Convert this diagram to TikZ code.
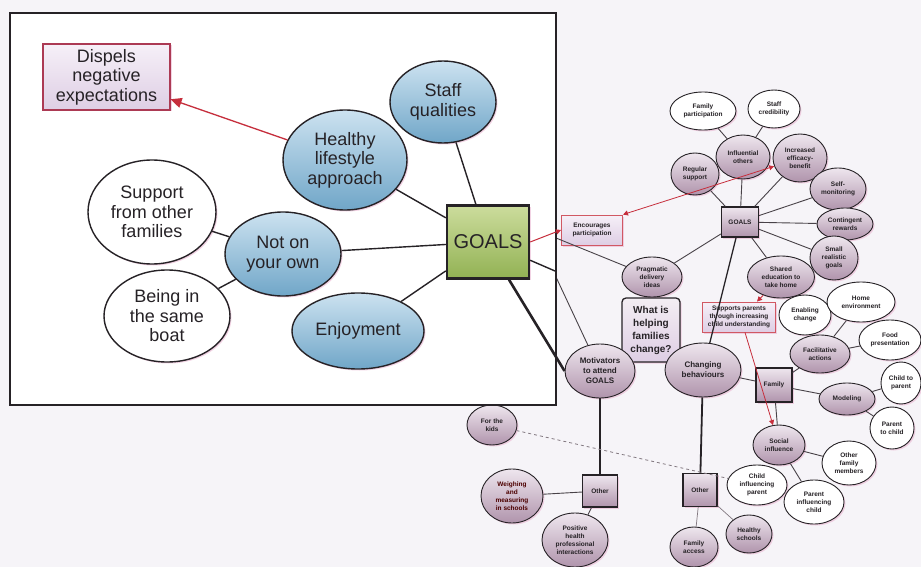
\documentclass[tikz,border=0pt]{standalone}
\usepackage{fontspec}
\setmainfont{Liberation Sans}
\usetikzlibrary{shapes.geometric,shadows,arrows.meta}

\definecolor{pagebg}{RGB}{246,244,248}
\definecolor{ink}{RGB}{38,34,38}
\definecolor{wire}{RGB}{72,66,72}
\definecolor{softwire}{RGB}{130,120,128}
\definecolor{mauveT}{RGB}{238,230,238}
\definecolor{mauveB}{RGB}{176,148,172}
\definecolor{blueT}{RGB}{204,226,240}
\definecolor{blueB}{RGB}{112,166,200}
\definecolor{greenT}{RGB}{204,220,156}
\definecolor{greenB}{RGB}{146,178,84}
\definecolor{noteT}{RGB}{246,240,248}
\definecolor{noteB}{RGB}{222,206,228}
\definecolor{linkred}{RGB}{198,46,60}
\definecolor{boxred}{RGB}{172,58,84}
\definecolor{glow}{RGB}{232,176,206}

\begin{document}
\begin{tikzpicture}[x=1pt,y=-1pt,
  glowshadow/.style={drop shadow={shadow xshift=1.5pt,shadow yshift=-1.5pt,fill=glow,opacity=0.55}},
  % enlarged panel
  bigtxt/.style={font=\fontsize{18}{19.5}\selectfont,align=center,text=ink},
  bigoval/.style 2 args={ellipse,draw=ink,line width=1.4pt,minimum width=#1,minimum height=#2,inner sep=0pt,bigtxt,glowshadow},
  blueoval/.style 2 args={bigoval={#1}{#2},top color=blueT,bottom color=blueB},
  whiteoval/.style 2 args={bigoval={#1}{#2},fill=white},
  goalbox/.style={rectangle,draw=ink,line width=2.4pt,minimum width=82,minimum height=73,top color=greenT,bottom color=greenB,font=\fontsize{20}{22}\selectfont,text=ink,glowshadow},
  redbox/.style={rectangle,draw=boxred,line width=1.2pt,minimum width=127,minimum height=66,inner sep=0pt,top color=noteT,bottom color=noteB,bigtxt,glowshadow},
  inklnk/.style={draw=ink,line width=1.4pt},
  % overview map
  smtxt/.style={font=\fontsize{6.5}{8.2}\selectfont\bfseries,align=center,text=ink},
  moval/.style 2 args={ellipse,draw=ink,line width=0.9pt,minimum width=#1,minimum height=#2,inner sep=0pt,smtxt,top color=mauveT,bottom color=mauveB,glowshadow},
  woval/.style 2 args={ellipse,draw=ink,line width=0.9pt,minimum width=#1,minimum height=#2,inner sep=0pt,smtxt,fill=white,glowshadow},
  msq/.style 2 args={rectangle,draw=ink,line width=1.2pt,minimum width=#1,minimum height=#2,inner sep=0pt,smtxt,top color=mauveT,bottom color=mauveB,glowshadow},
  notebox/.style 2 args={rectangle,draw=linkred!80!white,line width=0.9pt,minimum width=#1,minimum height=#2,inner sep=1pt,smtxt,top color=noteT,bottom color=noteB,glowshadow},
  centrebox/.style={rectangle,rounded corners=4pt,draw=ink,line width=1.3pt,minimum width=58,minimum height=64,inner sep=0pt,align=center,font=\fontsize{10}{13}\selectfont\bfseries,text=ink,top color=mauveT!70!white,bottom color=noteB,glowshadow},
  lnk/.style={draw=wire,line width=0.9pt},
  heavylnk/.style={draw=ink,line width=1.8pt},
  faintlnk/.style={draw=softwire,line width=0.7pt},
  dashlnk/.style={draw=softwire,line width=0.8pt,dashed},
  redlnk/.style={draw=linkred,line width=0.8pt},
  redtip/.style={-{Triangle[length=5pt,width=5pt]}},
]
\useasboundingbox[fill=pagebg] (0,0) rectangle (921,567);

% ---------- overview map ----------
\node[woval={66}{38}] (famp) at (703,111) {Family\\participation};
\node[woval={52}{38}] (staffc) at (774,109) {Staff\\credibility};
\node[moval={54}{44}] (infl) at (743,157) {Influential\\others};
\node[moval={54}{48}] (incr) at (800,158) {Increased\\efficacy-\\benefit};
\node[moval={48}{42}] (regs) at (695,174) {Regular\\support};
\node[msq={37}{30}] (gsm) at (740,222) {GOALS};
\node[moval={56}{42}] (selfm) at (838,189) {Self-\\monitoring};
\node[moval={56}{32}] (cont) at (845,224) {Contingent\\rewards};
\node[moval={48}{44}] (smallg) at (834,258) {Small\\realistic\\goals};
\node[moval={67}{42}] (shared) at (781,277) {Shared\\education to\\take home};
\node[notebox={61}{30}] (enc) at (592,230) {Encourages\\participation};
\node[moval={60}{40}] (prag) at (652,277) {Pragmatic\\delivery\\ideas};
\node[centrebox] (whatis) at (651,330) {What is\\helping\\families\\change?};
\node[moval={70}{54},font=\fontsize{8}{10}\selectfont\bfseries] (motiv) at (600,371) {Motivators\\to attend\\GOALS};
\node[moval={76}{54},font=\fontsize{8}{10}\selectfont\bfseries] (chg) at (703,370) {Changing\\behaviours};
\node[notebox={73}{30}] (supp) at (739,317) {Supports parents\\through increasing\\child understanding};
\node[woval={52}{40}] (enab) at (805,315) {Enabling\\change};
\node[woval={68}{40}] (home) at (861,302) {Home\\environment};
\node[moval={60}{38}] (facil) at (820,354) {Facilitative\\actions};
\node[woval={62}{40}] (food) at (890,340) {Food\\presentation};
\node[msq={36}{34}] (fam) at (774,385) {Family};
\node[moval={56}{32}] (model) at (847,399) {Modeling};
\node[woval={40}{42}] (ctop) at (901,383) {Child to\\parent};
\node[woval={44}{42}] (ptoc) at (892,428) {Parent\\to child};
\node[moval={52}{40}] (social) at (779,445) {Social\\influence};
\node[woval={54}{44}] (ofm) at (849,463) {Other\\family\\members};
\node[woval={60}{40}] (cip) at (757,485) {Child\\influencing\\parent};
\node[woval={60}{44}] (pic) at (814,502) {Parent\\influencing\\child};
\node[msq={34}{33}] (othR) at (700,490) {Other};
\node[moval={46}{38}] (hsch) at (749,534) {Healthy\\schools};
\node[moval={48}{40}] (facc) at (694,547) {Family\\access};
\node[msq={35}{32}] (othL) at (600,491) {Other};
\node[moval={62}{54},text=black!70!red] (weigh) at (512,496) {Weighing\\and\\measuring\\in schools};
\node[moval={66}{54}] (posit) at (575,540) {Positive\\health\\professional\\interactions};
\node[moval={50}{40}] (kids) at (492,425) {For the\\kids};

% links of the overview map
\draw[lnk] (famp) -- (infl);
\draw[lnk] (staffc) -- (infl);
\draw[lnk] (infl) -- (gsm);
\draw[lnk] (incr) -- (gsm);
\draw[lnk] (regs) -- (gsm);
\draw[lnk] (selfm) -- (gsm);
\draw[lnk] (cont) -- (gsm);
\draw[lnk] (smallg) -- (gsm);
\draw[lnk] (shared) -- (gsm);
\draw[lnk] (gsm) -- (prag);
\draw[draw=ink,line width=1.3pt] (gsm) -- (chg);
\draw[lnk] (chg) -- (fam);
\draw[lnk] (fam) -- (facil);
\draw[lnk] (fam) -- (model);
\draw[lnk] (fam) -- (social);
\draw[lnk] (facil) -- (home);
\draw[lnk] (facil) -- (food);
\draw[lnk] (facil) -- (enab);
\draw[lnk] (model) -- (ctop);
\draw[lnk] (model) -- (ptoc);
\draw[lnk] (social) -- (ofm);
\draw[lnk] (social) -- (pic);
\draw[heavylnk] (motiv) -- (othL);
\draw[heavylnk] (chg) -- (othR);
\draw[lnk] (othL) -- (weigh);
\draw[lnk] (othL) -- (posit);
\draw[faintlnk] (othR) -- (facc);
\draw[faintlnk] (othR) -- (hsch);
\draw[dashlnk] (kids) -- (cip);

% links that run out from under the enlarged panel
\coordinate (edgeA) at (556,238);
\coordinate (edgeB) at (556,277);
\draw[lnk] (edgeA) -- (prag);
\draw[lnk] (edgeB) -- (motiv);

% red influence arrows
\draw[redlnk,{Triangle[length=5pt,width=5pt]}-{Triangle[length=5pt,width=5pt]}] (enc.north east) -- (incr);
\draw[redlnk,redtip] (shared) -- ([xshift=18pt]supp.north);
\draw[redlnk,redtip] ([xshift=6pt]supp.south) -- (social);

% ---------- enlarged panel ----------
\draw[draw=ink,line width=1.5pt,fill=white] (10,13) rectangle (556,405);

\node[redbox] (dispel) at (106.5,77) {Dispels\\negative\\expectations};
\node[blueoval={106}{82}] (staffq) at (443,102) {Staff\\qualities};
\node[blueoval={124}{100}] (healthy) at (345,160) {Healthy\\lifestyle\\approach};
\node[whiteoval={128}{104}] (support) at (152,212) {Support\\from other\\families};
\node[blueoval={116}{84}] (notown) at (283,254) {Not on\\your own};
\node[whiteoval={126}{92}] (boat) at (167,316) {Being in\\the same\\boat};
\node[blueoval={132}{76}] (enjoy) at (358,331) {Enjoyment};
\node[goalbox] (bigG) at (488,242) {GOALS};

\draw[inklnk] (staffq) -- (bigG);
\draw[inklnk] (healthy) -- (bigG);
\draw[inklnk] (notown) -- (bigG);
\draw[inklnk] (enjoy) -- (bigG);
\draw[inklnk] (support) -- (notown);
\draw[inklnk] (boat) -- (notown);
\coordinate (edgeC) at (555,271);
\draw[inklnk] (bigG) -- (edgeC);
\draw[draw=linkred,line width=1.3pt,-{Triangle[length=11pt,width=10pt]}] (healthy) -- (dispel);

% connectors crossing the panel border
\draw[draw=ink,line width=2.6pt] ([xshift=21pt]bigG.south) -- (motiv.west);
\draw[draw=linkred,line width=1pt,redtip] (bigG.east) -- (enc.west);
\end{tikzpicture}
\end{document}
